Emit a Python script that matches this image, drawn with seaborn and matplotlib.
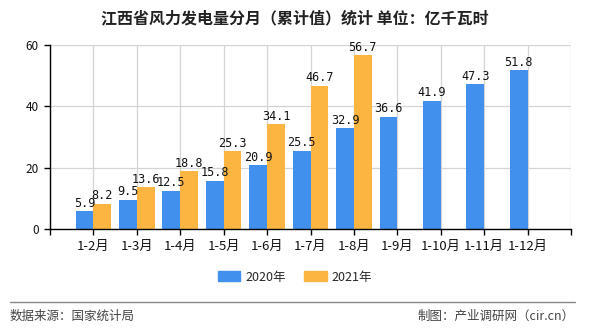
import numpy as np
import pandas as pd
import matplotlib
matplotlib.use("Agg")
import matplotlib.pyplot as plt
from matplotlib.lines import Line2D
import seaborn as sns

categories = ["1-2月", "1-3月", "1-4月", "1-5月", "1-6月", "1-7月", "1-8月",
              "1-9月", "1-10月", "1-11月", "1-12月"]
values_2020 = [5.9, 9.5, 12.5, 15.8, 20.9, 25.5, 32.9, 36.6, 41.9, 47.3, 51.8]
values_2021 = [8.2, 13.6, 18.8, 25.3, 34.1, 46.7, 56.7, np.nan, np.nan, np.nan, np.nan]
series = ["2020年", "2021年"]
colors = ["#4290ED", "#FBB540"]
title = "江西省风力发电量分月（累计值）统计 单位：亿千瓦时"

df = pd.DataFrame({
    "cat": categories * 2,
    "val": values_2020 + values_2021,
    "series": [series[0]] * len(categories) + [series[1]] * len(categories),
})

sns.set_theme(style="white")
plt.rcParams["font.family"] = ["Noto Sans CJK SC", "DejaVu Sans"]

fig = plt.figure(figsize=(5.9, 3.3), dpi=100)
ax = fig.add_axes([50 / 590, 1 - 229 / 330, (571 - 50) / 590, (229 - 45) / 330])

sns.barplot(data=df, x="cat", y="val", hue="series", palette=colors,
            width=0.82, gap=0, ax=ax, legend=False, saturation=1,
            linewidth=0, edgecolor="none")

for cont in ax.containers:
    labels = ["" if np.isnan(b.get_height()) else f"{b.get_height():.1f}" for b in cont]
    ax.bar_label(cont, labels=labels, padding=1, fontsize=8.5,
                 family=["DejaVu Sans Mono"], color="#111111")

ax.set_xlim(-1, 11)
ax.set_ylim(0, 60)
ax.set_yticks([0, 20, 40, 60])
ax.set_xticks(range(-1, 12))
ax.set_xticklabels([""] + categories + [""])
ax.set_xlabel("")
ax.set_ylabel("")
ax.grid(True, color="#d4d4d4", linewidth=0.9)
ax.set_axisbelow(True)
for s in ["top", "right"]:
    ax.spines[s].set_visible(False)
for s in ["left", "bottom"]:
    ax.spines[s].set_color("#000000")
    ax.spines[s].set_linewidth(1.0)
ax.tick_params(axis="both", which="both", direction="out", length=4, width=1,
               color="#000000", labelsize=8.5, labelcolor="#111111", pad=4,
               left=True, bottom=True)
ax.tick_params(axis="x", labelsize=9.5)

fig.text(0.5, 1 - 18 / 330, title, ha="center", va="center", fontsize=11.5,
         fontweight="bold", color="#222222")

handles = [plt.Rectangle((0, 0), 1, 1, color=c) for c in colors]
fig.legend(handles, series, loc="center", bbox_to_anchor=(0.5, 1 - 277 / 330),
           ncol=2, frameon=False, fontsize=9, handlelength=1.8, handleheight=0.8,
           columnspacing=1.5, handletextpad=0.4)

fig.add_artist(Line2D([10 / 590, 575 / 590], [1 - 302 / 330] * 2,
                      color="#888888", linewidth=1))
fig.text(10 / 590, 1 - 316 / 330, "数据来源：国家统计局", ha="left", va="center",
         fontsize=9, color="#444444")
fig.text(575 / 590, 1 - 316 / 330, "制图：产业调研网（cir.cn）", ha="right", va="center",
         fontsize=9, color="#444444")

fig.savefig("out.png", dpi=100)
